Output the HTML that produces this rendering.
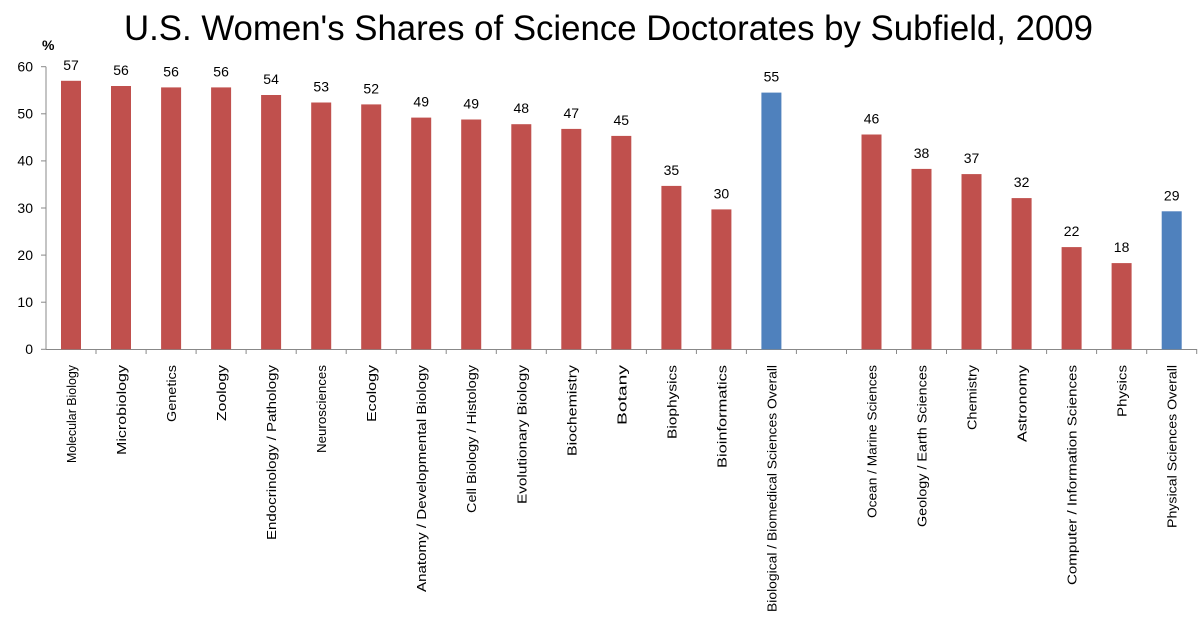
<!DOCTYPE html>
<html><head><meta charset="utf-8"><style>
body{margin:0;background:#fff}
svg{display:block}
text{font-family:"Liberation Sans",sans-serif;fill:#000}
.v{font-size:14px;text-anchor:middle}
.y{font-size:14px;text-anchor:end}
.c{font-size:13px;text-anchor:start}
</style></head><body>
<svg width="1200" height="640" viewBox="0 0 1200 640">
<text x="124" y="40" textLength="969" lengthAdjust="spacingAndGlyphs" style="font-size:35px">U.S. Women's Shares of Science Doctorates by Subfield, 2009</text>
<text x="42" y="50" style="font-size:14px;font-weight:bold">%</text>
<g stroke="#888" stroke-width="1" fill="none">
<line x1="46" y1="66.7" x2="46" y2="349.5"/>
<line x1="46" y1="349.5" x2="1197" y2="349.5"/>
<line x1="41" y1="66.7" x2="46" y2="66.7"/><line x1="41" y1="113.8" x2="46" y2="113.8"/><line x1="41" y1="160.9" x2="46" y2="160.9"/><line x1="41" y1="208" x2="46" y2="208"/><line x1="41" y1="255.1" x2="46" y2="255.1"/><line x1="41" y1="302.2" x2="46" y2="302.2"/><line x1="41" y1="349.3" x2="46" y2="349.3"/>
<path d="M96 349v5M146.1 349v5M196.1 349v5M246.1 349v5M296.2 349v5M346.2 349v5M396.2 349v5M446.2 349v5M496.3 349v5M546.3 349v5M596.3 349v5M646.4 349v5M696.4 349v5M746.4 349v5M796.4 349v5M846.5 349v5M896.5 349v5M946.5 349v5M996.6 349v5M1046.6 349v5M1096.6 349v5M1146.7 349v5M1196.7 349v5"/>
</g>
<g>
<text x="33" y="71.5" class="y">60</text><text x="33" y="118.6" class="y">50</text><text x="33" y="165.7" class="y">40</text><text x="33" y="212.8" class="y">30</text><text x="33" y="259.9" class="y">20</text><text x="33" y="307" class="y">10</text><text x="33" y="354" class="y">0</text>
</g>
<g fill="#c0504d">
<rect x="61" y="80.8" width="20" height="268.5"/>
<rect x="111" y="86" width="20" height="263.3"/>
<rect x="161.1" y="87.4" width="20" height="261.9"/>
<rect x="211.1" y="87.4" width="20" height="261.9"/>
<rect x="261.1" y="95" width="20" height="254.3"/>
<rect x="311.2" y="102.5" width="20" height="246.8"/>
<rect x="361.2" y="104.4" width="20" height="244.9"/>
<rect x="411.2" y="117.6" width="20" height="231.7"/>
<rect x="461.2" y="119.5" width="20" height="229.8"/>
<rect x="511.3" y="124.2" width="20" height="225.1"/>
<rect x="561.3" y="128.9" width="20" height="220.4"/>
<rect x="611.3" y="135.9" width="20" height="213.4"/>
<rect x="661.4" y="185.9" width="20" height="163.4"/>
<rect x="711.4" y="209.4" width="20" height="139.9"/>
<rect x="861.5" y="134.5" width="20" height="214.8"/>
<rect x="911.5" y="168.9" width="20" height="180.4"/>
<rect x="961.5" y="174.1" width="20" height="175.2"/>
<rect x="1011.6" y="198.1" width="20" height="151.2"/>
<rect x="1061.6" y="247.1" width="20" height="102.2"/>
<rect x="1111.6" y="263.1" width="20" height="86.2"/>
</g>
<g fill="#4f81bd">
<rect x="761.4" y="92.6" width="20" height="256.7"/>
<rect x="1161.7" y="211.3" width="20" height="138"/>
</g>
<g>
<text class="v" x="71" y="70">57</text>
<text class="v" x="121" y="75">56</text>
<text class="v" x="171.1" y="76.5">56</text>
<text class="v" x="221.1" y="76.5">56</text>
<text class="v" x="271.1" y="84">54</text>
<text class="v" x="321.2" y="91.5">53</text>
<text class="v" x="371.2" y="93.5">52</text>
<text class="v" x="421.2" y="106.5">49</text>
<text class="v" x="471.2" y="108.5">49</text>
<text class="v" x="521.3" y="113">48</text>
<text class="v" x="571.3" y="118">47</text>
<text class="v" x="621.3" y="125">45</text>
<text class="v" x="671.4" y="175">35</text>
<text class="v" x="721.4" y="198.5">30</text>
<text class="v" x="771.4" y="81.5">55</text>
<text class="v" x="871.5" y="123.5">46</text>
<text class="v" x="921.5" y="158">38</text>
<text class="v" x="971.5" y="163">37</text>
<text class="v" x="1021.6" y="187">32</text>
<text class="v" x="1071.6" y="236">22</text>
<text class="v" x="1121.6" y="252">18</text>
<text class="v" x="1171.7" y="200.5">29</text>
</g>
<g>
<text class="c" textLength="98" lengthAdjust="spacingAndGlyphs" transform="translate(76,463) rotate(-90)">Molecular Biology</text>
<text class="c" textLength="90" lengthAdjust="spacingAndGlyphs" transform="translate(126,455) rotate(-90)">Microbiology</text>
<text class="c" textLength="57" lengthAdjust="spacingAndGlyphs" transform="translate(176.1,422) rotate(-90)">Genetics</text>
<text class="c" textLength="56" lengthAdjust="spacingAndGlyphs" transform="translate(226.1,421) rotate(-90)">Zoology</text>
<text class="c" textLength="175" lengthAdjust="spacingAndGlyphs" transform="translate(276.1,540) rotate(-90)">Endocrinology / Pathology</text>
<text class="c" textLength="88" lengthAdjust="spacingAndGlyphs" transform="translate(326.2,453) rotate(-90)">Neurosciences</text>
<text class="c" textLength="57" lengthAdjust="spacingAndGlyphs" transform="translate(376.2,422) rotate(-90)">Ecology</text>
<text class="c" textLength="227" lengthAdjust="spacingAndGlyphs" transform="translate(426.2,592) rotate(-90)">Anatomy / Developmental Biology</text>
<text class="c" textLength="148" lengthAdjust="spacingAndGlyphs" transform="translate(476.2,513) rotate(-90)">Cell Biology / Histology</text>
<text class="c" textLength="139" lengthAdjust="spacingAndGlyphs" transform="translate(526.3,504) rotate(-90)">Evolutionary Biology</text>
<text class="c" textLength="91" lengthAdjust="spacingAndGlyphs" transform="translate(576.3,456) rotate(-90)">Biochemistry</text>
<text class="c" textLength="60" lengthAdjust="spacingAndGlyphs" transform="translate(626.3,425) rotate(-90)">Botany</text>
<text class="c" textLength="74" lengthAdjust="spacingAndGlyphs" transform="translate(676.4,439) rotate(-90)">Biophysics</text>
<text class="c" textLength="103" lengthAdjust="spacingAndGlyphs" transform="translate(726.4,468) rotate(-90)">Bioinformatics</text>
<text class="c" textLength="247" lengthAdjust="spacingAndGlyphs" transform="translate(776.4,612) rotate(-90)">Biological / Biomedical Sciences Overall</text>
<text class="c" textLength="153" lengthAdjust="spacingAndGlyphs" transform="translate(876.5,518) rotate(-90)">Ocean / Marine Sciences</text>
<text class="c" textLength="162" lengthAdjust="spacingAndGlyphs" transform="translate(926.5,527) rotate(-90)">Geology / Earth Sciences</text>
<text class="c" textLength="65" lengthAdjust="spacingAndGlyphs" transform="translate(976.5,430) rotate(-90)">Chemistry</text>
<text class="c" textLength="77" lengthAdjust="spacingAndGlyphs" transform="translate(1026.6,442) rotate(-90)">Astronomy</text>
<text class="c" textLength="220" lengthAdjust="spacingAndGlyphs" transform="translate(1076.6,585) rotate(-90)">Computer / Information Sciences</text>
<text class="c" textLength="52" lengthAdjust="spacingAndGlyphs" transform="translate(1126.6,417) rotate(-90)">Physics</text>
<text class="c" textLength="163" lengthAdjust="spacingAndGlyphs" transform="translate(1176.7,528) rotate(-90)">Physical Sciences Overall</text>
</g>
</svg>
</body></html>
